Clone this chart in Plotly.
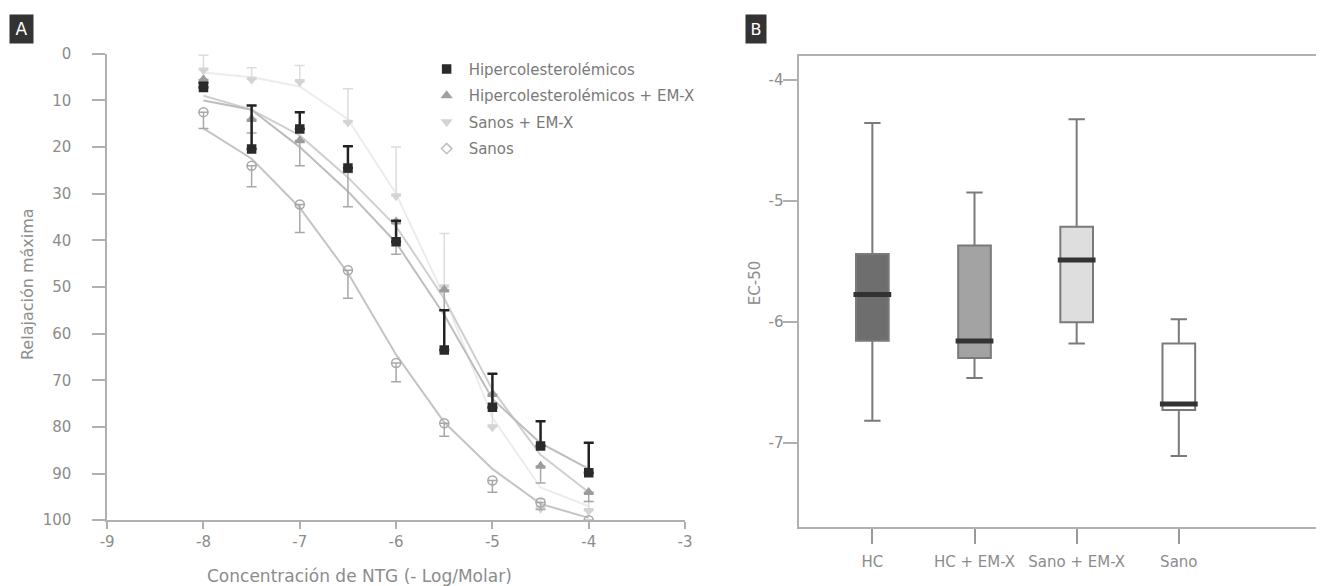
import plotly.graph_objects as go

W, H = 1323, 586

# ---------------- Panel A data ----------------
conc = [-8, -7.5, -7, -6.5, -6, -5.5, -5, -4.5, -4]

hc_vals = [7.2, 20.4, 16.1, 24.5, 40.3, 63.5, 75.8, 84.1, 89.8]
hc_err = [1.0, 9.3, 3.6, 4.7, 4.5, 8.5, 7.2, 5.3, 6.4]
hc_fit = [10, 12, 20, 29.5, 40.5, 56, 74, 83.5, 89]

hcx_vals = [5.5, 14, 18.6, 25, 36, 50.6, 73, 88.4, 94]
hcx_err = [1.5, 3, 5.4, 7.8, 7, 4.4, 3, 3.6, 2]
hcx_fit = [9, 12, 17.5, 26.5, 37, 52.5, 72, 86, 94]

sx_vals = [3.5, 5.5, 6, 14.7, 30.5, 50, 80, 97.5, 98]
sx_err = [3.2, 2.5, 3.5, 7.2, 10.5, 11.5, 4, 2, 2]
sx_fit = [4, 5, 7, 14, 30, 52, 78, 93, 97]

s_vals = [12.5, 24, 32.3, 46.4, 66.3, 79.2, 91.5, 96.2, 100]
s_err = [3.5, 4.5, 6, 6, 4, 2.8, 2.5, 1.5, 0.5]
s_fit = [16, 22.5, 33, 47, 64.5, 79, 89, 96.5, 99.5]

legend_names = ["Hipercolesterolémicos", "Hipercolesterolémicos + EM-X",
                "Sanos + EM-X", "Sanos"]

# ---------------- Panel B data ----------------
groups = ["HC", "HC + EM-X", "Sano + EM-X", "Sano"]
upper_whisk = [-4.355, -4.93, -4.325, -5.98]
q3_vals = [-5.44, -5.37, -5.215, -6.18]
medians = [-5.775, -6.16, -5.49, -6.68]
q1_vals = [-6.157, -6.30, -6.005, -6.73]
lower_whisk = [-6.82, -6.465, -6.18, -7.11]
box_fills = ["#6e6e6e", "#a3a3a3", "#dedede", "#ffffff"]

FONT = "DejaVu Sans"
TXT = "#8c8c8c"
AX = "#b0b0b0"

fig = go.Figure()

# fitted curves
for fit, col in [(sx_fit, "#ececec"), (s_fit, "#c4c4c4"),
                 (hcx_fit, "#cfcfcf"), (hc_fit, "#bdbdbd")]:
    fig.add_trace(go.Scatter(x=conc, y=fit, mode="lines", showlegend=False,
                             line=dict(color=col, width=2), hoverinfo="skip",
                             xaxis="x", yaxis="y"))

# data points with error bars
series = [
    (sx_vals, sx_err, "minus", "triangle-down", "#d4d4d4", "#dcdcdc", 8, 1.5),
    (s_vals, s_err, "plus", "circle-open", "#a8a8a8", "#a8a8a8", 9, 1.5),
    (hcx_vals, hcx_err, "plus", "triangle-up", "#9c9c9c", "#a8a8a8", 8, 1.5),
    (hc_vals, hc_err, "minus", "square", "#2a2a2a", "#222222", 8, 2.5),
]
for vals, err, direction, sym, mcol, ecol, ms, th in series:
    zeros = [0] * len(err)
    ey = dict(type="data", symmetric=False, color=ecol, thickness=th,
              width=5,
              array=err if direction == "plus" else zeros,
              arrayminus=err if direction == "minus" else zeros)
    fig.add_trace(go.Scatter(x=conc, y=vals, mode="markers", showlegend=False,
                             marker=dict(symbol=sym, size=ms, color=mcol,
                                         line=dict(color=mcol, width=1.5)),
                             error_y=ey, xaxis="x", yaxis="y"))

# legend entries
leg_styles = [("square", "#2a2a2a"), ("triangle-up", "#a0a0a0"),
              ("triangle-down", "#d4d4d4"), ("diamond-open", "#c0c0c0")]
for i, (name, (sym, col)) in enumerate(zip(legend_names, leg_styles)):
    fig.add_trace(go.Scatter(x=[None], y=[None], mode="markers", name=name,
                             legendgroup="g%d" % i,
                             marker=dict(symbol=sym, size=8, color=col,
                                         line=dict(color=col, width=1.5)),
                             xaxis="x", yaxis="y"))

# ---------------- Panel B boxes ----------------
for g, u, q3, m, q1, lo, fc in zip(groups, upper_whisk, q3_vals, medians,
                                   q1_vals, lower_whisk, box_fills):
    fig.add_trace(go.Box(x=[g], q1=[q1], median=[m], q3=[q3],
                         lowerfence=[lo], upperfence=[u], width=0.32,
                         whiskerwidth=0.5, fillcolor=fc,
                         line=dict(color="#7a7a7a", width=2),
                         showlegend=False, hoverinfo="skip",
                         xaxis="x2", yaxis="y2"))

fig.add_trace(go.Scatter(x=groups, y=medians, mode="markers", showlegend=False,
                         marker=dict(symbol="line-ew", size=27, color="#333333",
                                     line=dict(color="#333333", width=5)),
                         xaxis="x2", yaxis="y2", hoverinfo="skip"))

# the page is shown with an 8px body margin; map target pixels to paper
OFF = 8
EW, EH = W - 2 * OFF, H - 2 * OFF


def px_x(p):
    return min(1.0, max(0.0, (p - OFF) / EW))


def px_y(p):
    return min(1.0, max(0.0, 1 - (p - OFF) / EH))


def note(text, x, y, **kw):
    d = dict(text=text, x=px_x(x), y=px_y(y), xref="paper", yref="paper",
             showarrow=False, xanchor="center", yanchor="middle")
    d.update(kw)
    return d


# x range of panel B extended so that categories stay at their place
b_left, b_right = 799, 1322
b_lo = -0.716
b_hi = b_lo + (min(b_right, OFF + EW) - b_left) / 102.0

fig.update_layout(
    width=W, height=H, autosize=False,
    margin=dict(l=0, r=0, t=0, b=0),
    paper_bgcolor="white", plot_bgcolor="white",
    font=dict(family=FONT, color=TXT, size=14),
    boxmode="overlay",
    xaxis=dict(domain=[px_x(108), px_x(685)], range=[-9, -3],
               tickvals=[-9, -8, -7, -6, -5, -4, -3],
               ticktext=["-9", "-8", "-7", "-6", "-5", "-4", "-3"],
               showline=True, linecolor=AX, linewidth=1.5,
               ticks="outside", ticklen=7, tickcolor=AX, tickwidth=1.5,
               ticklabelstandoff=0,
               showgrid=False, zeroline=False, anchor="y",
               tickfont=dict(size=15, color=TXT)),
    yaxis=dict(domain=[px_y(521), px_y(53)], range=[100, 0],
               tickvals=[0, 10, 20, 30, 40, 50, 60, 70, 80, 90, 100],
               showline=True, linecolor=AX, linewidth=1.5,
               ticks="outside", ticklen=13, tickcolor=AX, tickwidth=1.5,
               ticklabelstandoff=18,
               showgrid=False, zeroline=False, anchor="x",
               tickfont=dict(size=15, color=TXT)),
    xaxis2=dict(domain=[px_x(b_left), px_x(b_right)], range=[b_lo, b_hi],
                type="category", categoryorder="array", categoryarray=groups,
                showline=True, mirror=True, linecolor=AX, linewidth=1.5,
                ticks="outside", ticklen=15, tickcolor="#999999", tickwidth=2,
                ticklabelstandoff=5,
                showgrid=False, zeroline=False, anchor="y2",
                tickfont=dict(size=15, color=TXT)),
    yaxis2=dict(domain=[px_y(528), px_y(55)], range=[-7.7, -3.8],
                tickvals=[-4, -5, -6, -7], ticktext=["-4", "-5", "-6", "-7"],
                showline=True, linecolor=AX, linewidth=1.5,
                ticks="outside", ticklen=14, tickcolor=AX, tickwidth=1.5,
                ticklabelstandoff=-3,
                showgrid=False, zeroline=False, anchor="x2",
                tickfont=dict(size=15, color=TXT)),
    legend=dict(x=px_x(425), y=px_y(52), xanchor="left", yanchor="top",
                bgcolor="rgba(0,0,0,0)", tracegroupgap=4, itemwidth=34,
                font=dict(size=15, color="#7a7a7a")),
    annotations=[
        note("Concentración de NTG (- Log/Molar)", 360, 577,
             font=dict(size=17, color=TXT)),
        note("Relajación máxima", 28, 284, textangle=-90,
             font=dict(size=16, color=TXT)),
        note("EC-50", 755, 283, textangle=-90,
             font=dict(size=15, color=TXT)),
        note("A", 22, 28, bgcolor="#333333", width=21, height=26,
             font=dict(size=17, color="white")),
        note("B", 756, 28, bgcolor="#333333", width=18, height=26,
             font=dict(size=16, color="white")),
    ],
)

fig.write_html("out.html")
